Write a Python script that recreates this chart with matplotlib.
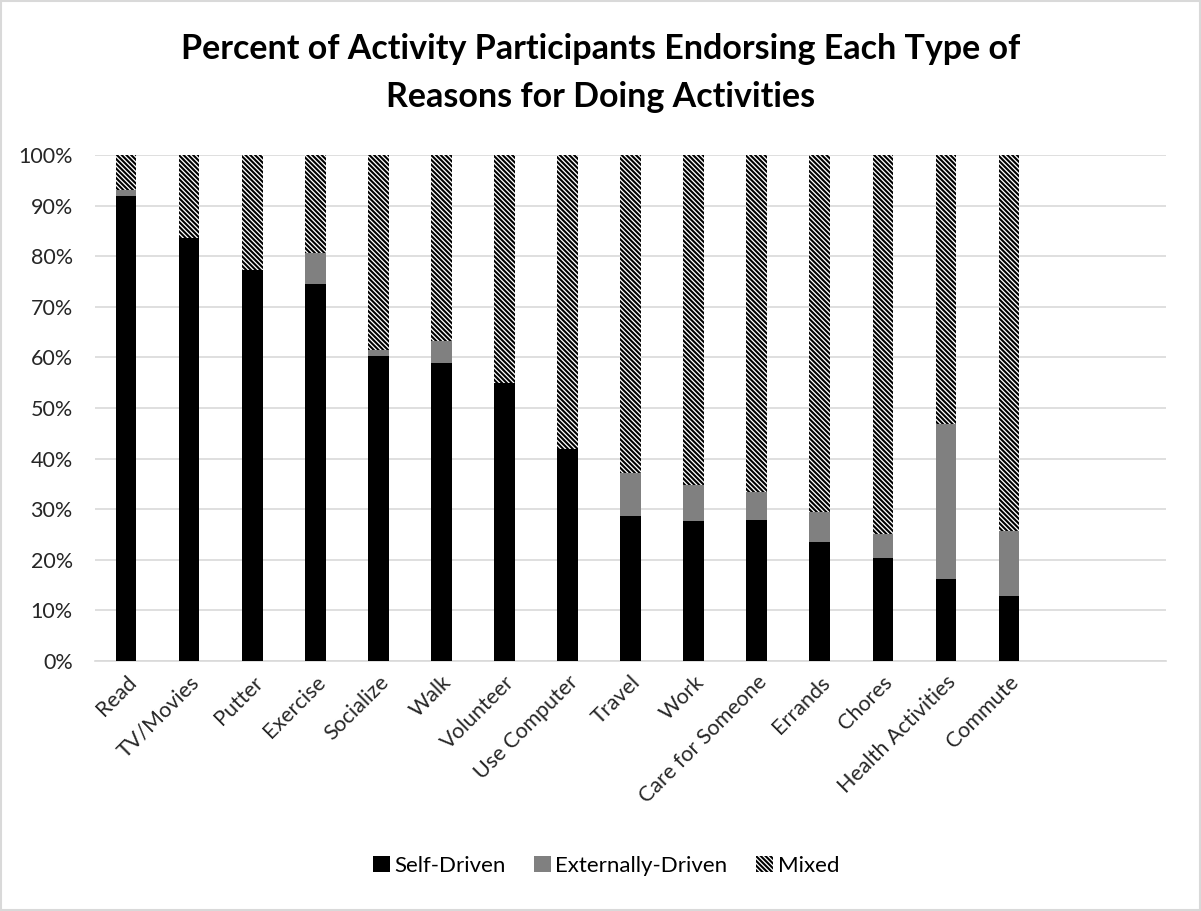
import matplotlib.pyplot as plt
import numpy as np
from matplotlib.patches import Rectangle

plt.rcParams['font.family'] = ['Lato', 'DejaVu Sans']
plt.rcParams['hatch.linewidth'] = 1.5
plt.rcParams['hatch.color'] = 'black'

activities = ['Read', 'TV/Movies', 'Putter', 'Exercise', 'Socialize', 'Walk',
              'Volunteer', 'Use Computer', 'Travel', 'Work', 'Care for Someone',
              'Errands', 'Chores', 'Health Activities', 'Commute']
self_driven = [91.8, 83.6, 77.3, 74.6, 60.2, 58.9, 54.9, 41.9, 28.7, 27.6,
               27.8, 23.5, 20.3, 16.3, 12.8]
external = [1.2, 0.0, 0.0, 6.0, 1.2, 4.3, 0.0, 0.0, 8.5, 7.1, 5.6, 5.9,
            4.8, 30.5, 12.9]
mixed = [100 - s - e for s, e in zip(self_driven, external)]

fig = plt.figure(figsize=(12.01, 9.11), dpi=100)
ax = fig.add_axes([0.079, 0.2744, 0.892, 0.5555])

x = np.arange(len(activities))
w = 0.32
ax.bar(x, self_driven, w, color='black', label='Self-Driven', zorder=3)
ax.bar(x, external, w, bottom=self_driven, color='#808080',
       label='Externally-Driven', zorder=3)
bottoms = [s + e for s, e in zip(self_driven, external)]
ax.bar(x, mixed, w, bottom=bottoms, color='white', hatch='\\' * 7,
       linewidth=0, label='Mixed', zorder=3)

ax.set_xlim(-0.5, 16.5)
ax.set_ylim(0, 100)
ax.set_yticks(range(0, 101, 10))
ax.set_yticklabels([f'{v}%' for v in range(0, 101, 10)])
ax.set_xticks(x)
ax.set_xticklabels(activities, rotation=45, ha='right', rotation_mode='anchor')
ax.tick_params(axis='both', length=0, labelsize=15.5, colors='#262626')
ax.tick_params(axis='y', pad=16)
ax.tick_params(axis='x', pad=8)
ax.grid(axis='y', color='#d9d9d9', linewidth=1.2, zorder=0)
for side in ['top', 'right', 'left']:
    ax.spines[side].set_visible(False)
ax.spines['bottom'].set_color('#d9d9d9')
ax.spines['bottom'].set_linewidth(1.2)

fig.suptitle('Percent of Activity Participants Endorsing Each Type of\nReasons for Doing Activities',
             fontsize=24.5, fontweight='bold', y=0.92, va='center', linespacing=1.6)

fig.legend(loc='center', bbox_to_anchor=(606 / 1201, 1 - 866 / 911), ncol=3,
           frameon=False, fontsize=16, handlelength=0.75, handleheight=0.75,
           handletextpad=0.2, columnspacing=1.3)

# thin border round the whole chart area
fig.patches.append(Rectangle((0.001, 0.001), 0.998, 0.998, transform=fig.transFigure,
                             fill=False, edgecolor='#d9d9d9', linewidth=1.5))

fig.savefig('out.png', dpi=100)
